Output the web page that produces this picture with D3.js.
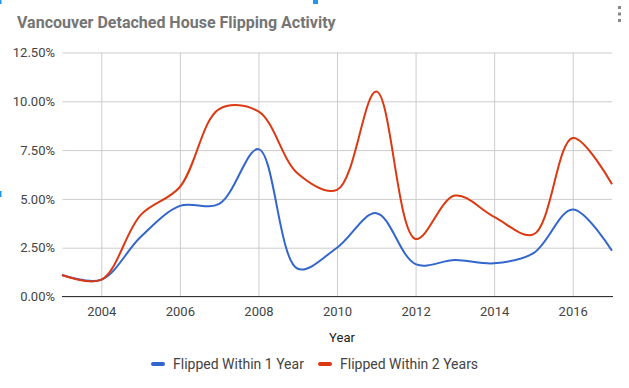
<!DOCTYPE html>
<html>
<head>
<meta charset="utf-8">
<script src="https://cdnjs.cloudflare.com/ajax/libs/d3/7.8.5/d3.min.js"></script>
<style>
  body { margin: 0; background: #fff; }
  svg { display: block; font-family: Roboto, Arial, sans-serif; }
</style>
</head>
<body>
<svg id="chart" width="629" height="388"></svg>
<script>
// Data (percent of sales).
var years = [2003, 2004, 2005, 2006, 2007, 2008, 2009, 2010, 2011, 2012, 2013, 2014, 2015, 2016, 2017];
var within1Year = [1.10, 0.86, 3.05, 4.64, 4.74, 7.55, 1.42, 2.50, 4.27, 1.66, 1.87, 1.70, 2.22, 4.46, 2.34];
var within2Years = [1.10, 0.86, 4.17, 5.61, 9.60, 9.48, 6.30, 5.46, 10.50, 2.95, 5.17, 4.08, 3.18, 8.12, 5.75];
var yTicks = [0, 2.5, 5, 7.5, 10, 12.5];
var xTicks = [2004, 2006, 2008, 2010, 2012, 2014, 2016];

var series = [
    {name: 'Flipped Within 1 Year', values: within1Year, colour: '#3366cc'},
    {name: 'Flipped Within 2 Years', values: within2Years, colour: '#dc3912'}
];

var svg = d3.select('#chart');
var margin = {left: 62, right: 612, top: 52.5, bottom: 296.5};

var x = d3.scaleLinear().domain([2003, 2017]).range([margin.left, margin.right]);
var y = d3.scaleLinear().domain([0, 12.5]).range([margin.bottom, margin.top]);

// Title
svg.append('text')
    .attr('x', 17)
    .attr('y', 28)
    .style('font-size', '16px')
    .style('font-weight', 'bold')
    .style('fill', '#757575')
    .text('Vancouver Detached House Flipping Activity');

// Menu dots
svg.selectAll('.dot')
    .data([7.5, 14, 20.5])
    .enter()
    .append('rect')
        .attr('x', 618)
        .attr('y', function(d) {return d - 1.5;})
        .attr('width', 3)
        .attr('height', 3)
        .style('fill', '#888');

// Selection handles at edges
svg.append('rect').attr('x', 0).attr('y', 0).attr('width', 1.5).attr('height', 4).style('fill', '#2196f3');
svg.append('rect').attr('x', 313).attr('y', 0).attr('width', 5).attr('height', 4).style('fill', '#2196f3');
svg.append('rect').attr('x', 0).attr('y', 191).attr('width', 1.5).attr('height', 6).style('fill', '#2196f3');

// Horizontal gridlines
var yAxis = d3.axisLeft(y)
    .tickValues(yTicks)
    .tickSize(-(margin.right - margin.left))
    .tickPadding(7)
    .tickFormat(function(d) {return d.toFixed(2) + '%';});

var yG = svg.append('g')
    .attr('transform', 'translate(' + margin.left + ',0)')
    .call(yAxis);
yG.select('.domain').remove();
yG.selectAll('line').style('stroke', '#cccccc').attr('x1', 0.5);
yG.selectAll('text')
    .style('font-size', '13px')
    .style('fill', '#444')
    .style('font-family', 'Roboto, Arial, sans-serif');

// Vertical gridlines
var xAxis = d3.axisBottom(x)
    .tickValues(xTicks)
    .tickSize(-(margin.bottom - margin.top))
    .tickPadding(10)
    .tickFormat(d3.format('d'));

var xG = svg.append('g')
    .attr('transform', 'translate(0,' + margin.bottom + ')')
    .call(xAxis);
xG.select('.domain').remove();
xG.selectAll('line').style('stroke', '#cccccc');
xG.selectAll('text')
    .style('font-size', '13px')
    .style('fill', '#444')
    .style('font-family', 'Roboto, Arial, sans-serif');

// Baseline
svg.append('line')
    .attr('x1', margin.left)
    .attr('x2', margin.right + 1)
    .attr('y1', y(0))
    .attr('y2', y(0))
    .style('stroke', '#333')
    .style('stroke-width', 1.2);

// Series lines
var line = d3.line()
    .x(function(d) {return x(d[0]);})
    .y(function(d) {return y(d[1]);})
    .curve(d3.curveCatmullRom.alpha(0.5));

series.forEach(function(s) {
    svg.append('path')
        .datum(years.map(function(yr, i) {return [yr, s.values[i]];}))
        .attr('d', line)
        .style('fill', 'none')
        .style('stroke', s.colour)
        .style('stroke-width', 2);
});

// Axis title
svg.append('text')
    .attr('x', 342)
    .attr('y', 342)
    .attr('text-anchor', 'middle')
    .style('font-size', '13px')
    .style('fill', '#222')
    .text('Year');

// Legend
var legend = svg.append('g').attr('transform', 'translate(152,364)');
var legendItems = legend.selectAll('g')
    .data(series)
    .enter()
    .append('g')
        .attr('transform', function(d, i) {return 'translate(' + (i * 167) + ',0)';});

legendItems.append('line')
    .attr('x1', 1)
    .attr('x2', 11)
    .style('stroke', function(d) {return d.colour;})
    .style('stroke-width', 4)
    .style('stroke-linecap', 'round');

legendItems.append('text')
    .attr('x', 21)
    .attr('y', 5)
    .style('font-size', '14px')
    .style('fill', '#444')
    .text(function(d) {return d.name;});
</script>
</body>
</html>
